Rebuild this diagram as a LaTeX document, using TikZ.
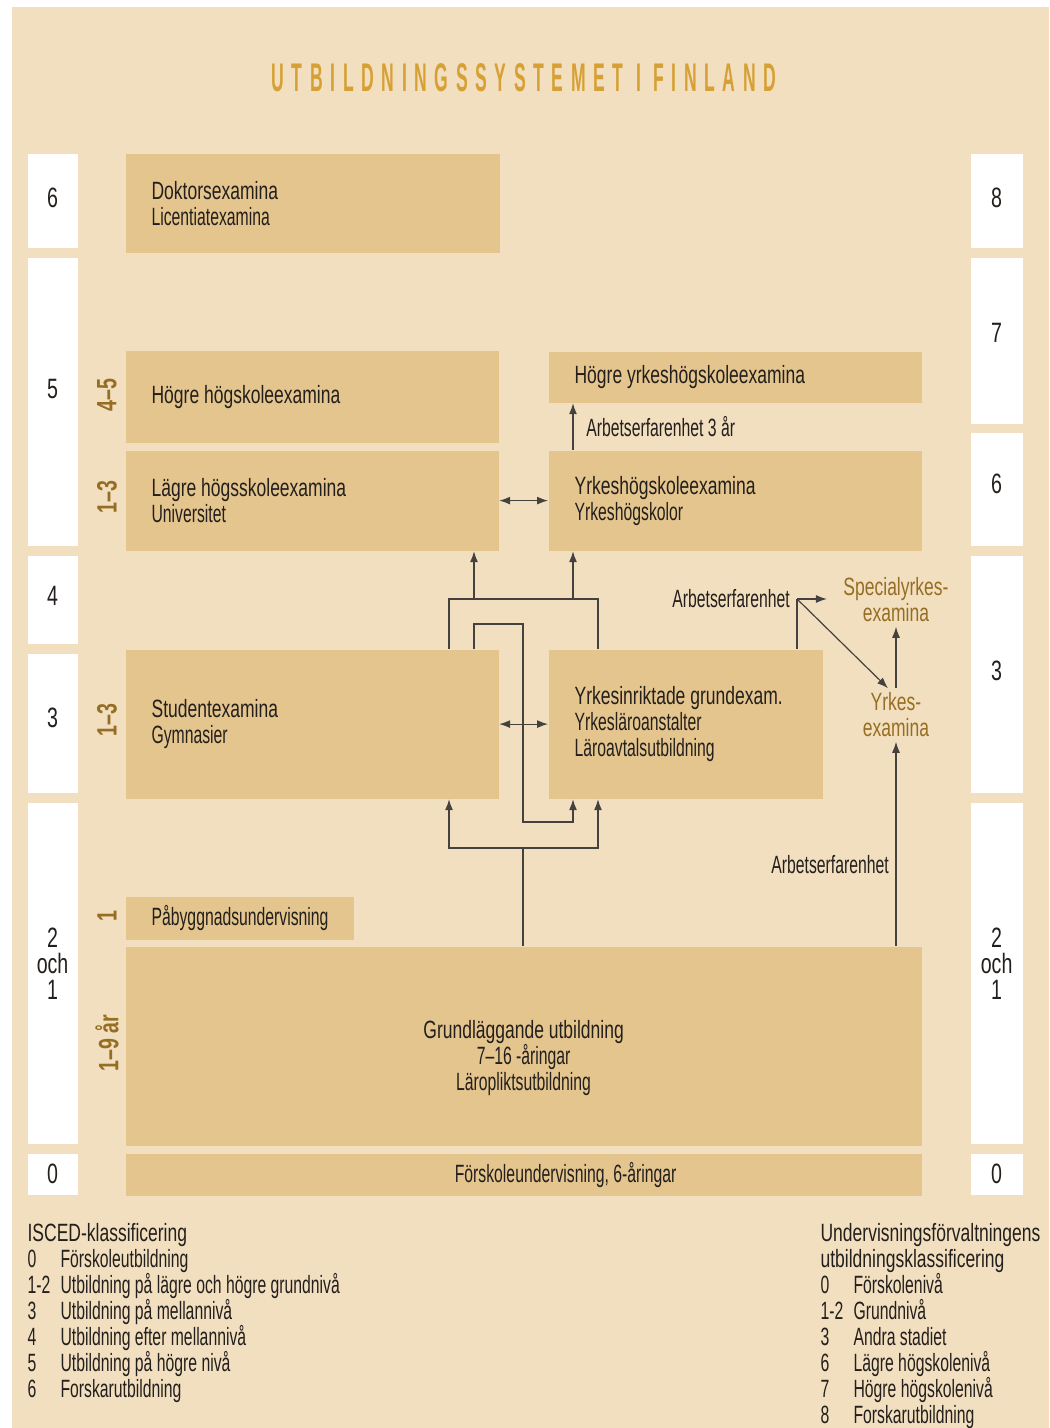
\documentclass[tikz,border=0pt]{standalone}
\usepackage{fontspec}
\setmainfont{Liberation Sans}[FakeStretch=0.7]
\newfontfamily\lightfont{Liberation Sans}[FakeStretch=0.63]
\newfontfamily\titlefont{Liberation Sans}[FakeStretch=0.44,LetterSpace=19]
\usetikzlibrary{arrows.meta}

\definecolor{panel}{RGB}{242,223,192}
\definecolor{boxfill}{RGB}{228,197,142}
\definecolor{gold}{RGB}{214,160,52}
\definecolor{darkgold}{RGB}{150,110,35}
\definecolor{ink}{RGB}{35,31,28}

\tikzstyle{block} = [fill=boxfill, anchor=north west, inner xsep=13pt, inner ysep=0pt, align=flush left]
\tikzstyle{lvl} = [fill=white, anchor=north west, inner sep=0pt, align=flush center,
font=\fontsize{14}{13}\selectfont]
\tikzstyle{years} = [text=darkgold, rotate=90, font=\bfseries\fontsize{14}{14}\selectfont]
\tikzstyle{exam} = [text=darkgold, align=flush center, inner sep=2pt]
\tikzstyle{note} = [font=\lightfont\fontsize{12.5}{13}\selectfont]
\tikzstyle{line} = [draw, -{Latex[length=5.5pt,width=4pt]}]
\newcommand{\sub}{\lightfont}
\newcommand{\keyno}[1]{\makebox[16.5pt][l]{#1}}

\begin{document}
\begin{tikzpicture}[x=0.5pt, y=-0.5pt, text=ink, font=\fontsize{12.5}{13}\selectfont, line width=0.6pt, draw=ink!85]
\useasboundingbox (0,0) rectangle (1049,1428);
\fill[panel] (12,7) rectangle (1049,1428);

\node [text=gold, font=\titlefont\bfseries\fontsize{20}{20}\selectfont, anchor=base] (title) at (524,92) {UTBILDNINGSSYSTEMET I FINLAND};

% ISCED levels, left
\node [lvl, minimum width=25pt, minimum height=47pt] (isced6) at (27,153) {\raisebox{3pt}{6}};
\node [lvl, minimum width=25pt, minimum height=144pt] (isced5) at (27,257) {\raisebox{13pt}{5}};
\node [lvl, minimum width=25pt, minimum height=44pt] (isced4) at (27,555) {\raisebox{4pt}{4}};
\node [lvl, minimum width=25pt, minimum height=69.5pt] (isced3) at (27,653) {\raisebox{5pt}{3}};
\node [lvl, minimum width=25pt, minimum height=170.5pt] (isced21) at (27,802) {2\\och\\1\rule[-9pt]{0pt}{9pt}};
\node [lvl, minimum width=25pt, minimum height=20.5pt] (isced0) at (27,1153) {0};

% national levels, right
\node [lvl, minimum width=26pt, minimum height=47pt] (nat8) at (970,153) {\raisebox{3pt}{8}};
\node [lvl, minimum width=26pt, minimum height=83pt] (nat7) at (970,257) {\raisebox{8pt}{7}};
\node [lvl, minimum width=26pt, minimum height=56.5pt] (nat6) at (970,432) {\raisebox{5pt}{6}};
\node [lvl, minimum width=26pt, minimum height=118.5pt] (nat3) at (970,555) {\raisebox{3pt}{3}};
\node [lvl, minimum width=26pt, minimum height=170.5pt] (nat21) at (970,802) {2\\och\\1\rule[-9pt]{0pt}{9pt}};
\node [lvl, minimum width=26pt, minimum height=20.5pt] (nat0) at (970,1153) {0};

% degrees
\node [block, text width=161pt, minimum height=49.5pt] (doktor) at (125,153) {Doktorsexamina\\\sub Licentiatexamina};
\node [block, text width=160.5pt, minimum height=46pt] (hogre) at (125,350) {Högre högskoleexamina};
\node [block, text width=160.5pt, minimum height=50pt] (lagre) at (125,450) {Lägre högsskoleexamina\\\sub Universitet};
\node [block, text width=160.5pt, minimum height=25.5pt] (hogreyh) at (548,351) {Högre yrkeshögskoleexamina};
\node [block, text width=160.5pt, minimum height=50pt] (yh) at (548,450) {Yrkeshögskoleexamina\\\sub Yrkeshögskolor};
\node [block, text width=160.5pt, minimum height=74.5pt] (student) at (125,649) {Studentexamina\\\sub Gymnasier};
\node [block, text width=111pt, inner xsep=13pt, minimum height=74.5pt] (yrkgrund) at (548,649) {Yrkesinriktade grundexam.\\\sub Yrkesläroanstalter\\\sub Läroavtalsutbildning};
\node [block, minimum width=114pt, minimum height=21.5pt] (paby) at (125,896) {\sub Påbyggnadsundervisning};
\node [block, align=flush center, inner xsep=0pt, minimum width=398pt, minimum height=99.5pt] (grundl) at (125,946) {\rule{0pt}{21pt}Grundläggande utbildning\\\sub 7–16 -åringar\\\sub Läropliktsutbildning};
\node [block, inner xsep=0pt, minimum width=398pt, minimum height=21pt] (forskola) at (125,1153) {\sub\hspace*{42pt}Förskoleundervisning, 6-åringar};

% years
\node [years] (y45) at (107,395) {4–5};
\node [years] (y13a) at (107,497) {1–3};
\node [years] (y13b) at (107,720) {1–3};
\node [years] (y1) at (107,916) {1};
\node [years] (y19) at (107,1043) {1–9 år};

\node [exam] (special) at (896,600) {Specialyrkes-\\examina};
\node [exam] (yrkesex) at (896,715) {Yrkes-\\examina};

% paths
\path [line, {Latex[length=5.5pt,width=4pt]}-{Latex[length=5.5pt,width=4pt]}] (lagre.east) -- (yh.west);
\path [line, {Latex[length=5.5pt,width=4pt]}-{Latex[length=5.5pt,width=4pt]}] (student.east) -- (yrkgrund.west);
\path [line] ([xshift=12.5pt]yh.north west) -- ([xshift=12.5pt]hogreyh.south west) node [note, midway, right=3pt] {Arbetserfarenhet 3 år};

\coordinate (split) at (449,599);
\coordinate (splitR) at (598,599);
\coordinate (toUni) at (474,599);
\coordinate (toYH) at (573,599);
\draw (student.north -| split) -- (split) -- (splitR) -- (yrkgrund.north -| splitR);
\path [line] (toUni) -- (toUni |- lagre.south);
\path [line] (toYH) -- (toYH |- yh.south);

\coordinate (loopA) at (474,624);
\coordinate (loopB) at (523,624);
\coordinate (loopC) at (523,822);
\coordinate (loopD) at (573,822);
\path [line] (student.north -| loopA) -- (loopA) -- (loopB) -- (loopC) -- (loopD) -- (loopD |- yrkgrund.south);

\coordinate (fork) at (523,848);
\coordinate (forkL) at (449,848);
\coordinate (forkR) at (598,848);
\draw (grundl.north -| fork) -- (fork);
\path [line] (fork) -| (student.south -| forkL);
\path [line] (fork) -| (yrkgrund.south -| forkR);

\path [line] (grundl.north -| yrkesex) -- (yrkesex.south) node [note, pos=0.4, left] {Arbetserfarenhet};
\path [line] (yrkesex.north) -- (special.south);
\coordinate (work) at (797,599);
\draw (yrkgrund.north -| work) -- (work) node [note, left] {Arbetserfarenhet};
\path [line] (work) -- ([xshift=-6pt]work -| special.west);
\path [line] (work) -- ([xshift=-4pt]yrkesex.north);

% legends
\node [anchor=north west, inner sep=0pt, align=flush left] (iscedkey) at (27,1223) {ISCED-klassificering\\
\sub\keyno{0}Förskoleutbildning\\
\sub\keyno{1-2}Utbildning på lägre och högre grundnivå\\
\sub\keyno{3}Utbildning på mellannivå\\
\sub\keyno{4}Utbildning efter mellannivå\\
\sub\keyno{5}Utbildning på högre nivå\\
\sub\keyno{6}Forskarutbildning};
\node [anchor=north west, inner sep=0pt, align=flush left] (natkey) at (820,1223) {Undervisningsförvaltningens\\
utbildningsklassificering\\
\sub\keyno{0}Förskolenivå\\
\sub\keyno{1-2}Grundnivå\\
\sub\keyno{3}Andra stadiet\\
\sub\keyno{6}Lägre högskolenivå\\
\sub\keyno{7}Högre högskolenivå\\
\sub\keyno{8}Forskarutbildning};
\end{tikzpicture}
\end{document}
